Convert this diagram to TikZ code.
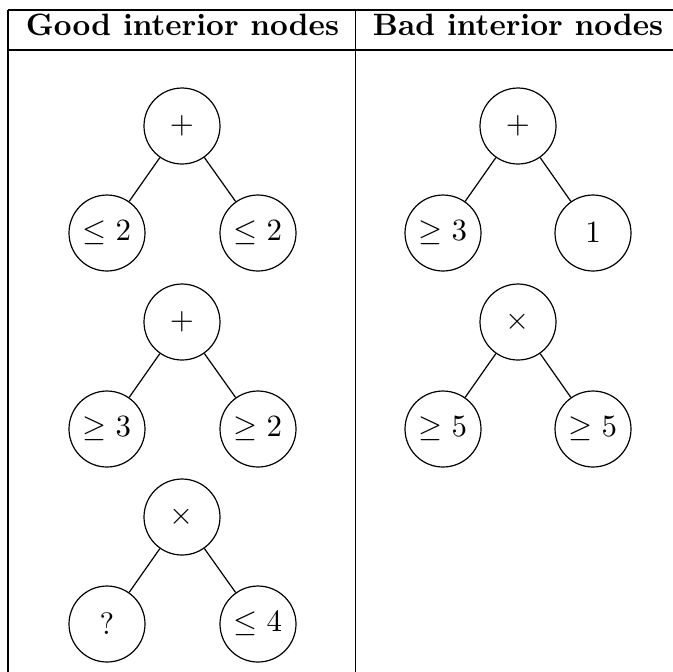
\documentclass[tikz,border=0pt]{standalone}
\newcommand{\headtext}[1]{\scalebox{1.03}{#1}}
\newcommand{\lbl}[1]{\scalebox{1.03}{#1}}
\begin{document}
\begin{tikzpicture}[x=0.33333pt, y=-0.33333pt,
  tnode/.style={circle, draw, line width=0.4pt, minimum size=25.33pt, inner sep=0pt},
  tedge/.style={line width=0.4pt},
  rule/.style={line width=0.45pt},
  head/.style={font=\bfseries, anchor=base}]
\useasboundingbox (0,0) rectangle (673,671);
\clip (0,0) rectangle (673,671);

% table rules
\draw[rule] (8,10) -- (690,10);
\draw[rule] (8,50) -- (690,50);
\draw[rule] (8,10) -- (8,690);
\draw[rule] (355.7,10) -- (355.7,690);
\draw[rule] (682,10) -- (682,690);

% headers
\node[head] (h1) at (182.5,35.5) {\headtext{Good interior nodes}};
\node[head] (h2) at (518,35.5) {\headtext{Bad interior nodes}};

% good: tree 1
\node[tnode] (g1r) at (182,126) {\lbl{$+$}};
\node[tnode] (g1a) at (107,233) {\lbl{$\le 2$}};
\node[tnode] (g1b) at (258,233) {\lbl{$\le 2$}};
\draw[tedge] (g1r) -- (g1a);
\draw[tedge] (g1r) -- (g1b);

% good: tree 2
\node[tnode] (g2r) at (182,322) {\lbl{$+$}};
\node[tnode] (g2a) at (107,429) {\lbl{$\ge 3$}};
\node[tnode] (g2b) at (258,429) {\lbl{$\ge 2$}};
\draw[tedge] (g2r) -- (g2a);
\draw[tedge] (g2r) -- (g2b);

% good: tree 3
\node[tnode] (g3r) at (182,517) {\lbl{$\times$}};
\node[tnode] (g3a) at (107,624) {\lbl{?}};
\node[tnode] (g3b) at (258,624) {\lbl{$\le 4$}};
\draw[tedge] (g3r) -- (g3a);
\draw[tedge] (g3r) -- (g3b);

% bad: tree 1
\node[tnode] (b1r) at (518,126) {\lbl{$+$}};
\node[tnode] (b1a) at (443,233) {\lbl{$\ge 3$}};
\node[tnode] (b1b) at (593,233) {\lbl{$1$}};
\draw[tedge] (b1r) -- (b1a);
\draw[tedge] (b1r) -- (b1b);

% bad: tree 2
\node[tnode] (b2r) at (518,322) {\lbl{$\times$}};
\node[tnode] (b2a) at (443,429) {\lbl{$\ge 5$}};
\node[tnode] (b2b) at (593,429) {\lbl{$\ge 5$}};
\draw[tedge] (b2r) -- (b2a);
\draw[tedge] (b2r) -- (b2b);
\end{tikzpicture}
\end{document}
